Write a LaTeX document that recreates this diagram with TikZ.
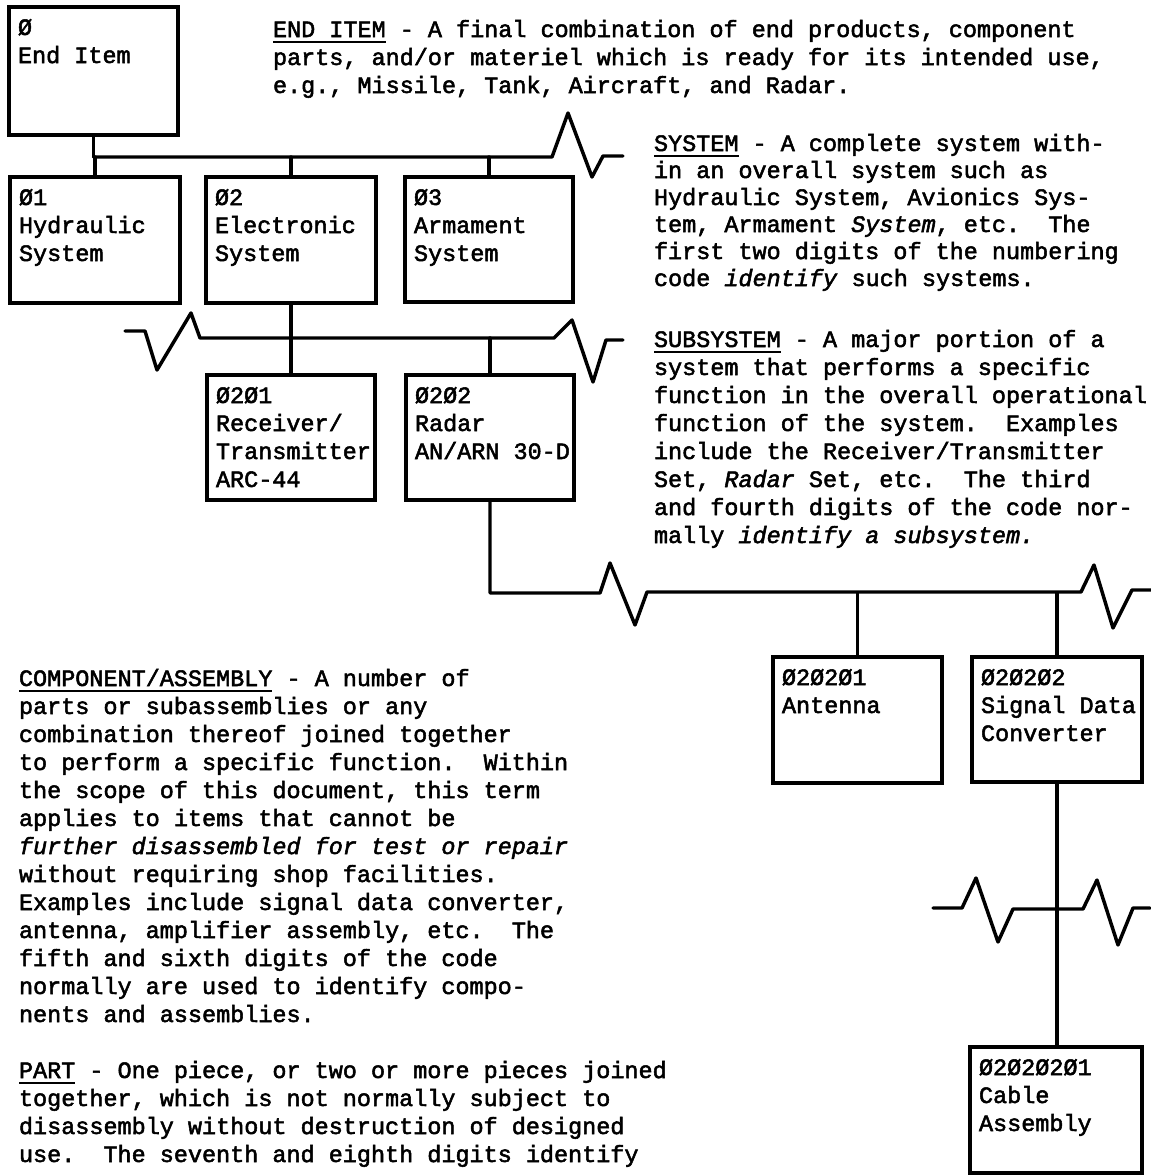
\documentclass[tikz,border=0pt]{standalone}
\usepackage{fontspec}
\newfontfamily\typewriter{Liberation Mono}[FakeBold=2.2]
\usetikzlibrary{fit,calc}
\frenchspacing

% underlined typewriter word
\newsavebox\undlbox
\newcommand\undl[1]{\sbox\undlbox{#1}\rlap{\rule[-4.5pt]{\wd\undlbox}{1.2pt}}\usebox\undlbox}
% left-aligned block of lines whose baseline is that of its first line
\newcommand\txtlines[1]{\vtop{\halign{##\hfil\cr#1\crcr}}}
% item box: name, corners (x1,y1) (x2,y2), text
\newcommand\itembox[6]{%
  \node[itembox, fit={(#2,#3) (#4,#5)}] (#1) {};
  \node[boxtext] (#1-text) at ($(#2,#3)+(9,28)$) {\txtlines{#6}};}

\tikzset{
  every node/.style={inner sep=0pt, outer sep=0pt},
  itembox/.style={draw, rectangle, line width=2.7pt},
  boxtext/.style={anchor=base west, font=\typewriter\fontsize{17.6pt}{21pt}\selectfont},
  para/.style={anchor=base west, font=\typewriter\fontsize{17.6pt}{21pt}\selectfont},
  wire/.style={line width=2.6pt, line join=round, line cap=round},
}

\begin{document}
\begin{tikzpicture}[x=0.75pt, y=-0.75pt]
  \fill[white] (0,0) rectangle (1151,1175);
  \useasboundingbox (0,0) rectangle (1151,1175);

  % ---- boxes ----
  \itembox{endi}{9}{7}{178}{135}{Ø\cr End Item}
  \itembox{hyd}{10}{177}{180}{303}{Ø1\cr Hydraulic\cr System}
  \itembox{elec}{206}{177}{376}{303}{Ø2\cr Electronic\cr System}
  \itembox{arm}{405}{177}{573}{302}{Ø3\cr Armament\cr System}
  \itembox{rt}{207}{375}{375}{500}{Ø2Ø1\cr Receiver/\cr Transmitter\cr ARC-44}
  \itembox{radar}{406}{375}{574}{500}{Ø2Ø2\cr Radar\cr AN/ARN 30-D}
  \itembox{ant}{773}{657}{942}{783}{Ø2Ø2Ø1\cr Antenna}
  \itembox{sdc}{972}{657}{1142}{782}{Ø2Ø2Ø2\cr Signal Data\cr Converter}
  \itembox{cable}{970}{1047}{1142}{1173}{Ø2Ø2Ø2Ø1\cr Cable\cr Assembly}

  % ---- bus levels ----
  \coordinate (bus1) at (0,157);
  \coordinate (bus2) at (0,338);
  \coordinate (bus3) at (0,593);
  \coordinate (bus1end) at (623,156);
  \coordinate (bus2start) at (125,331);
  \coordinate (bus2end) at (623,340);
  \coordinate (bus3end) at (1151,590);
  \coordinate (brk4start) at (933,908);
  \coordinate (brk4end) at (1150,908);

  % end item to systems
  \draw[wire] (endi.south) -- (endi.south |- bus1);
  \draw[wire] (endi.south |- bus1) -- (552,157) -- (568,113) -- (592,177)
              -- (603,156) -- (bus1end);
  \draw[wire] (hyd.north |- bus1) -- (hyd.north);
  \draw[wire] (elec.north |- bus1) -- (elec.north);
  \draw[wire] (arm.north |- bus1) -- (arm.north);

  % electronic system to subsystems
  \draw[wire] (bus2start) -- (145,331) -- (157,370) -- (191,313) -- (200,338)
              -- (554,338) -- (572,320) -- (593,382) -- (606,340) -- (bus2end);
  \draw[wire] (elec.south) -- (rt.north);
  \draw[wire] (radar.north |- bus2) -- (radar.north);

  % radar to components
  \draw[wire] (radar.south) -- (radar.south |- bus3) -- (600,593) -- (610,563)
              -- (635,625) -- (647,592) -- (1081,592) -- (1094,565)
              -- (1113,628) -- (1132,590) -- (bus3end);
  \draw[wire] (ant.north |- bus3) -- (ant.north);
  \draw[wire] (sdc.north |- bus3) -- (sdc.north);

  % signal data converter to part
  \draw[wire] (sdc.south) -- (sdc.south |- cable.north);
  \draw[wire] (brk4start) -- (962,908) -- (976,878) -- (998,942) -- (1013,909)
              -- (1083,909) -- (1097,880) -- (1118,945) -- (1133,908) -- (brk4end);

  % ---- definitions ----
  \node[para] (enditem-def) at (273,37) {\txtlines{%
    \undl{END ITEM} - A final combination of end products, component\cr
    parts, and/or materiel which is ready for its intended use,\cr
    e.g., Missile, Tank, Aircraft, and Radar.}};

  \node[para, font=\typewriter\fontsize{17.6pt}{20.25pt}\selectfont] (system-def) at (654,151) {\txtlines{%
    \undl{SYSTEM} - A complete system with-\cr
    in an overall system such as\cr
    Hydraulic System, Avionics Sys-\cr
    tem, Armament \textit{System}, etc.\ \ The\cr
    first two digits of the numbering\cr
    code \textit{identify} such systems.}};

  \node[para] (subsystem-def) at (654,347) {\txtlines{%
    \undl{SUBSYSTEM} - A major portion of a\cr
    system that performs a specific\cr
    function in the overall operational\cr
    function of the system.\ \ Examples\cr
    include the Receiver/Transmitter\cr
    Set, \textit{Radar} Set, etc.\ \ The third\cr
    and fourth digits of the code nor-\cr
    mally \textit{identify a subsystem.}}};

  \node[para] (component-def) at (19,686) {\txtlines{%
    \undl{COMPONENT/ASSEMBLY} - A number of\cr
    parts or subassemblies or any\cr
    combination thereof joined together\cr
    to perform a specific function.\ \ Within\cr
    the scope of this document, this term\cr
    applies to items that cannot be\cr
    \textit{further disassembled for test or repair}\cr
    without requiring shop facilities.\cr
    Examples include signal data converter,\cr
    antenna, amplifier assembly, etc.\ \ The\cr
    fifth and sixth digits of the code\cr
    normally are used to identify compo-\cr
    nents and assemblies.\cr
    \cr
    \undl{PART} - One piece, or two or more pieces joined\cr
    together, which is not normally subject to\cr
    disassembly without destruction of designed\cr
    use.\ \ The seventh and eighth digits identify}};
\end{tikzpicture}
\end{document}
